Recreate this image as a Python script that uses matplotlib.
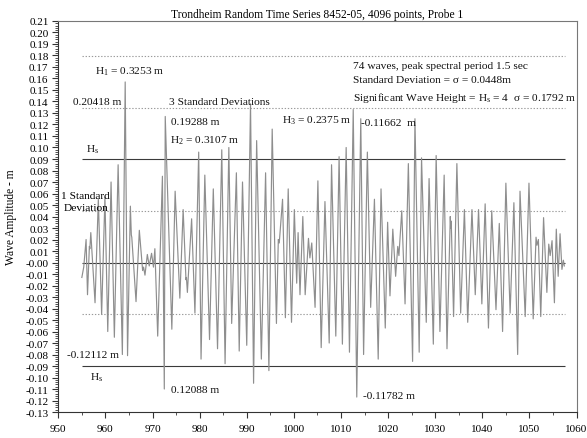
import numpy as np
import matplotlib
matplotlib.use("Agg")
import matplotlib.pyplot as plt
from matplotlib.ticker import MultipleLocator, FixedLocator

plt.rcParams['font.family'] = ['Liberation Serif', 'DejaVu Serif']
plt.rcParams['mathtext.fontset'] = 'custom'
plt.rcParams['mathtext.rm'] = 'Liberation Serif'
plt.rcParams['mathtext.it'] = 'Liberation Serif:italic'
plt.rcParams['mathtext.default'] = 'rm'

# Probe 1 surface elevation, turning points of the record (time s, elevation m)
wave_t = [
    955.0, 955.4, 955.9, 956.2, 956.6, 956.7, 956.9, 957.8, 958.5, 959.2,
    959.9, 960.5, 961.2, 961.9, 962.7, 963.6, 964.2, 964.7, 965.3, 965.5,
    965.6, 966.5, 967.2, 967.9, 968.1, 968.4, 968.9, 969.3, 969.8, 970.2,
    970.5, 971.1, 972.1, 972.5, 972.7, 974.1, 974.8, 975.8, 976.5, 977.1,
    977.2, 977.4, 978.3, 979.0, 979.8, 980.3, 981.1, 982.1, 982.9, 983.8,
    984.7, 985.4, 986.2, 986.8, 987.8, 988.4, 989.1, 990.0, 990.8, 991.45,
    992.1, 993.1, 994.0, 994.7, 995.4, 996.3, 996.7, 996.9, 997.6, 998.2,
    998.8, 999.5, 1000.1, 1000.6, 1000.9, 1001.3, 1001.9, 1002.4, 1003.1, 1003.4,
    1003.8, 1004.5, 1005.1, 1005.8, 1006.6, 1007.5, 1008.0, 1008.9, 1009.6, 1010.3,
    1011.1, 1011.8, 1012.6, 1013.35, 1014.2, 1014.8, 1015.6, 1016.3, 1017.1, 1017.9,
    1018.5, 1019.4, 1019.9, 1020.4, 1021.0, 1021.6, 1022.05, 1022.3, 1022.9, 1023.6,
    1024.3, 1025.2, 1025.7, 1026.6, 1027.1, 1028.1, 1028.7, 1029.6, 1030.2, 1031.0,
    1031.9, 1032.5, 1033.2, 1033.3, 1033.4, 1033.9, 1034.6, 1035.4, 1036.2, 1036.9,
    1037.8, 1038.5, 1039.2, 1039.9, 1040.6, 1041.3, 1042.0, 1042.9, 1043.6, 1044.3,
    1045.0, 1045.9, 1046.7, 1047.5, 1048.0, 1049.1, 1049.9, 1050.8, 1051.4, 1051.6,
    1051.9, 1052.4, 1053.0, 1053.7, 1054.1, 1054.4, 1054.8, 1055.3, 1055.7, 1056.1,
    1056.5, 1056.9, 1057.2, 1057.4,
]
wave_eta = [
    -0.013, -0.004, 0.020, -0.028, 0.014, 0.012, 0.026, -0.035, 0.055, -0.045,
    0.057, -0.060, 0.070, -0.065, 0.085, -0.080, 0.157, -0.081, 0.049, 0.024,
    0.022, -0.034, 0.028, -0.007, -0.004, -0.011, 0.007, -0.003, 0.008, -0.004,
    0.012, -0.064, 0.075, -0.110, 0.127, -0.058, 0.062, -0.031, 0.046, -0.015,
    -0.013, -0.026, 0.038, -0.044, 0.096, -0.084, 0.076, -0.067, 0.064, -0.075,
    0.098, -0.088, 0.100, -0.053, 0.078, -0.077, 0.070, -0.072, 0.138, -0.105,
    0.106, -0.084, 0.078, -0.094, 0.116, -0.053, 0.020, 0.017, 0.055, -0.048,
    0.064, -0.052, 0.046, -0.018, 0.026, -0.028, 0.040, -0.028, 0.021, 0.004,
    0.017, -0.039, 0.071, -0.074, 0.053, -0.070, 0.085, -0.064, 0.092, -0.071,
    0.100, -0.078, 0.133, -0.117, 0.125, -0.080, 0.096, -0.039, 0.055, -0.084,
    0.064, -0.057, 0.035, -0.029, 0.029, -0.012, 0.014, 0.006, 0.045, -0.036,
    0.086, -0.086, 0.125, -0.078, 0.091, -0.052, 0.073, -0.071, 0.093, -0.060,
    0.076, -0.075, 0.040, 0.030, 0.036, -0.047, 0.086, -0.044, 0.046, -0.052,
    0.046, -0.028, 0.046, -0.036, 0.051, -0.057, 0.045, -0.041, 0.034, -0.060,
    0.069, -0.044, 0.052, -0.080, 0.062, -0.047, 0.069, -0.049, 0.022, 0.015,
    0.020, -0.047, 0.039, -0.026, 0.016, 0.006, 0.019, -0.035, 0.029, -0.012,
    0.025, -0.006, 0.002, -0.003,
]

# Record statistics
sigma = 0.0448
line_start, line_end = 955.0, 1057.6

x_ticks = [950, 960, 970, 980, 990, 1000, 1010, 1020, 1030, 1040, 1050, 1060]
x_tick_labels = [str(v) for v in x_ticks]
y_ticks = np.round(np.arange(-0.13, 0.2101, 0.01), 2)
y_tick_labels = [f"{v:.2f}" if v != 0 else "-0.00" for v in y_ticks]

fig = plt.figure(figsize=(5.87, 4.39), dpi=100)
ax = fig.add_axes([0.0993, 0.0592, 0.8829, 0.8907])

# Reference levels: mean, +/- Hs/2 (solid); 1, 3, 4 standard deviations (dotted)
ax.hlines([0.0, 2 * sigma, -2 * sigma], line_start, line_end,
          colors='#3a3a3a', linewidth=0.8, zorder=2)
ax.hlines([sigma, -sigma, 3 * sigma, 4 * sigma], line_start, line_end,
          colors='#9a9a9a', linewidth=0.8, linestyles=(0, (1.2, 1.6)), zorder=2)

ax.plot(wave_t, wave_eta, color='#8e8e8e', linewidth=0.85, zorder=3)

ax.set_xlim(950, 1060)
ax.set_ylim(-0.13, 0.21)
ax.xaxis.set_major_locator(FixedLocator(x_ticks))
ax.set_xticklabels(x_tick_labels)
ax.xaxis.set_minor_locator(MultipleLocator(5))
ax.yaxis.set_major_locator(FixedLocator(y_ticks))
ax.set_yticklabels(y_tick_labels)
ax.yaxis.set_minor_locator(MultipleLocator(0.002))

ax.tick_params(axis='both', which='major', direction='out', length=4.5,
               width=0.8, color='#333333', labelsize=8, pad=2.5)
ax.tick_params(axis='both', which='minor', direction='out', length=2.2,
               width=0.6, color='#333333')
ax.tick_params(axis='x', which='major', pad=4)
for side in ('left', 'bottom'):
    ax.spines[side].set_color('#333333')
    ax.spines[side].set_linewidth(0.8)
for side in ('top', 'right'):
    ax.spines[side].set_color('#777777')
    ax.spines[side].set_linewidth(0.8)

ax.set_title("Trondheim Random Time Series 8452-05, 4096 points, Probe 1",
             fontsize=8.3, pad=3)
ax.set_ylabel("Wave Amplitude - m", fontsize=8.3)
ax.yaxis.set_label_coords(-0.079, 0.5)

fs = 8.2
txt = dict(fontsize=fs, ha='left', va='center', color='#111111')
ax.text(957.8, 0.1665, "H$_1$ = 0.3253 m", **txt)
ax.text(953.2, 0.1404, "0.20418 m", **txt)
ax.text(973.4, 0.1404, "3 Standard Deviations", **txt)
ax.text(973.9, 0.1230, "0.19288 m", **txt)
ax.text(973.7, 0.1065, "H$_2$ = 0.3107 m", **txt)
ax.text(997.4, 0.1245, "H$_3$ = 0.2375 m", **txt)
ax.text(1014.2, 0.1220, "-0.11662  m", **txt)
ax.text(1012.6, 0.1715, "74 waves, peak spectral period 1.5 sec", **txt)
ax.text(1012.6, 0.1587, "Standard Deviation = σ = 0.0448m", **txt)
ax.text(1012.6, 0.1440, "Significant Wave Height = H$_s$ = 4  σ = 0.1792 m", **txt)
ax.text(955.8, 0.0990, "H$_s$", **txt)
ax.text(955.8, 0.0584, "1 Standard", fontsize=fs, ha='center', va='center')
ax.text(955.8, 0.0477, "Deviation", fontsize=fs, ha='center', va='center')
ax.text(951.8, -0.0804, "-0.12112 m", **txt)
ax.text(956.7, -0.0995, "H$_s$", **txt)
ax.text(973.9, -0.1100, "0.12088 m", **txt)
ax.text(1014.6, -0.1160, "-0.11782 m", **txt)

fig.savefig("out.png", dpi=100)
